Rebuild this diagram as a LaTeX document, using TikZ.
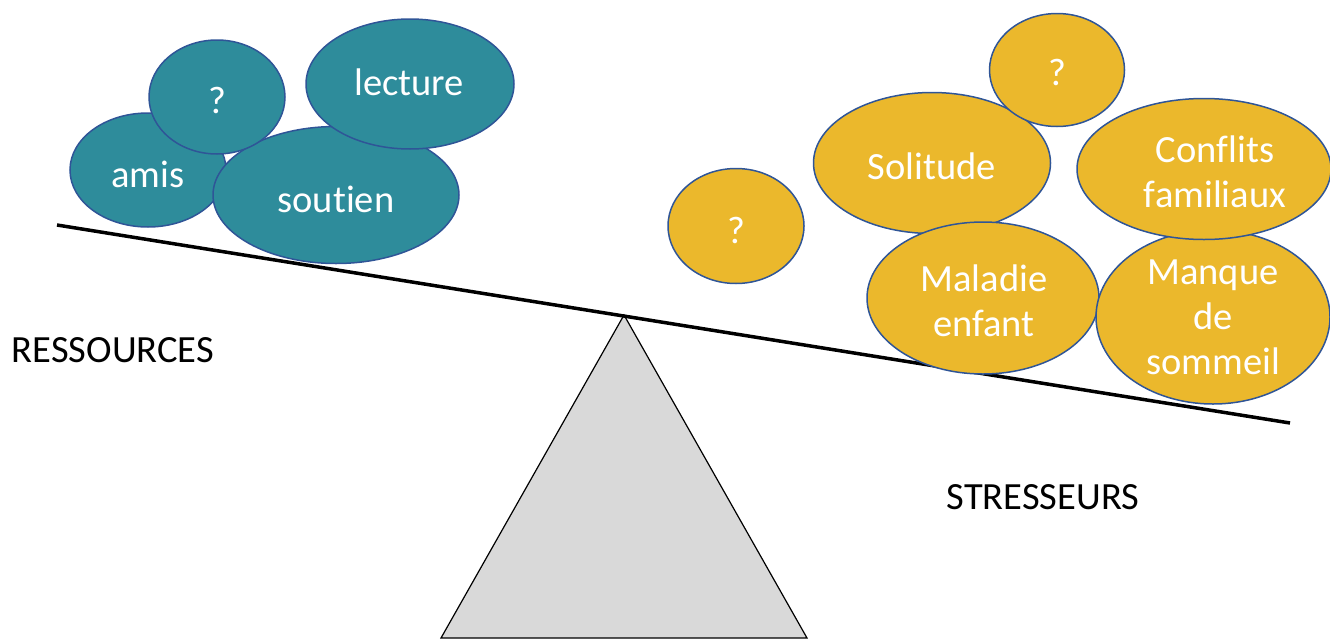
\documentclass[tikz,border=0pt]{standalone}
\usepackage{fontspec}
\setmainfont{Carlito}[Ligatures={NoCommon}]
\usetikzlibrary{shapes.geometric}
\definecolor{tealc}{HTML}{2E8C9B}
\definecolor{goldc}{HTML}{EBB82C}
\definecolor{edgec}{HTML}{2F5597}
\definecolor{grayc}{HTML}{D9D9D9}
\tikzset{
  blob/.style={ellipse, draw=edgec, line width=1.5pt, inner sep=0pt},
  res/.style={blob, fill=tealc},
  str/.style={blob, fill=goldc},
  wtxt/.style={text=white, font=\fontsize{38.5}{45}\selectfont, inner sep=0pt, align=center},
  lbl/.style={font=\fontsize{38.5}{45}\selectfont, text=black, inner sep=0pt}
}
\begin{document}
\begin{tikzpicture}[x=1pt,y=-1pt]
\useasboundingbox (0,0) rectangle (1330,640);
% fulcrum
\coordinate (apex) at (624,315);
\coordinate (bl) at (441,638);
\coordinate (br) at (807,638);
\draw[fill=grayc, line width=1.2pt, line join=miter] (apex) -- (br) -- (bl) -- cycle;
% beam
\coordinate (beamL) at (57,225);
\coordinate (beamR) at (1290,423);
\draw[line width=3.5pt] (beamL) -- (beamR);
% resources
\node[res, minimum width=156pt, minimum height=114pt] (amis) at (148,170) {};
\node[res, minimum width=246pt, minimum height=137pt] (soutien) at (336,195) {};
\node[res, minimum width=136pt, minimum height=114pt] (q1) at (217,97) {};
\node[res, minimum width=208pt, minimum height=130pt] (lecture) at (410,84) {};
\node[wtxt] at (148,174) {amis};
\node[wtxt] at (336,199) {soutien};
\node[wtxt] at (217,100) {?};
\node[wtxt] at (409,82) {lecture};
% stressors
\node[str, minimum width=136pt, minimum height=115pt] (q2) at (736,226) {};
\node[str, minimum width=237pt, minimum height=141pt] (solitude) at (932,163) {};
\node[str, minimum width=135pt, minimum height=113pt] (q3) at (1057,70) {};
\node[str, minimum width=232pt, minimum height=152pt] (maladie) at (983,298) {};
\node[str, minimum width=234pt, minimum height=174pt] (manque) at (1213,317) {};
\node[str, minimum width=254pt, minimum height=141pt] (conflits) at (1204,169) {};
\node[wtxt] at (736,230) {?};
\node[wtxt] at (932,166) {Solitude};
\node[wtxt] at (1057,72) {?};
\node[wtxt] at (984,301) {Maladie\\enfant};
\node[wtxt] at (1213,317) {Manque\\de\\sommeil};
\node[wtxt] at (1215,172) {Conflits\\familiaux};
% labels
\node[lbl] (ressources) at (113,350) {RESSOURCES};
\node[lbl] (stresseurs) at (1043,497) {STRESSEURS};
\end{tikzpicture}
\end{document}
